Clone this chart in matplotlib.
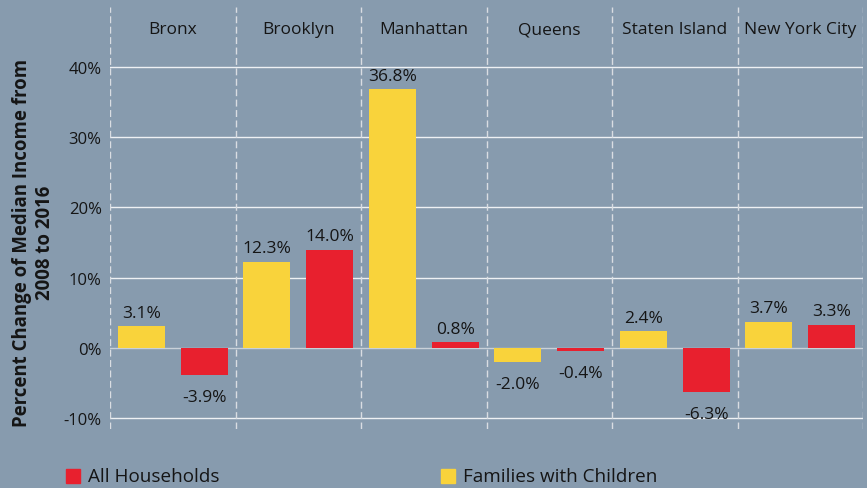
import matplotlib.pyplot as plt
from matplotlib.patches import Rectangle

plt.rcParams["font.family"] = ["Open Sans", "DejaVu Sans"]

boroughs = ["Bronx", "Brooklyn", "Manhattan", "Queens", "Staten Island", "New York City"]
families_with_children = [3.1, 12.3, 36.8, -2.0, 2.4, 3.7]
all_households = [-3.9, 14.0, 0.8, -0.4, -6.3, 3.3]
y_ticks = [-10, 0, 10, 20, 30, 40]

BG = "#879BAE"
YELLOW = "#F9D33B"
RED = "#E8202E"
TEXT = "#151515"

fig = plt.figure(figsize=(8.67, 4.89), dpi=100, facecolor=BG)
ax = fig.add_axes([110 / 867, 1 - 430 / 489, 753 / 867, 422 / 489])
ax.set_facecolor(BG)

n = len(boroughs)
ax.set_xlim(0, n)
ax.set_ylim(-11.53, 48.54)

# horizontal grid
for t in y_ticks:
    ax.axhline(t, color="#c9d1d9" if t == 0 else "#eef1f4", lw=1.0, zorder=1)

# panel separators
for i in range(n + 1):
    ax.axvline(i, color="#d9dde2", lw=1.0, ls=(0, (5, 2.5)), zorder=1)

w = 0.375
for i, name in enumerate(boroughs):
    ax.text(i + 0.5, 45.4, name, ha="center", va="center", fontsize=12.5, color=TEXT)
    for off, val, col in ((0.25, families_with_children[i], YELLOW), (0.75, all_households[i], RED)):
        ax.bar(i + off, val, width=w, color=col, zorder=2)
        if val >= 0:
            ax.annotate(f"{val:.1f}%", (i + off, val), xytext=(0, 4), textcoords="offset points",
                        ha="center", va="bottom", fontsize=12.5, color=TEXT)
        else:
            ax.annotate(f"{val:.1f}%", (i + off, val), xytext=(0, -10), textcoords="offset points",
                        ha="center", va="top", fontsize=12.5, color=TEXT)

ax.set_yticks(y_ticks)
ax.set_yticklabels([f"{t}%" for t in y_ticks], fontsize=12, color=TEXT)
ax.tick_params(axis="y", length=0, pad=6)
ax.set_xticks([])
for s in ax.spines.values():
    s.set_visible(False)

fig.text(34 / 867, 1 - 243 / 489, "Percent Change of Median Income from\n2008 to 2016",
         rotation=90, ha="center", va="center", fontsize=13.4, fontweight="bold",
         color=TEXT, multialignment="center", linespacing=1.2)

# legend
for x0, col, label in ((66, RED, "All Households"), (441, YELLOW, "Families with Children")):
    fig.patches.append(Rectangle((x0 / 867, 1 - 484 / 489), 14 / 867, 14 / 489,
                                 transform=fig.transFigure, color=col))
    fig.text((x0 + 22) / 867, 1 - 477 / 489, label, ha="left", va="center",
             fontsize=13.6, color=TEXT)

fig.savefig("out.png", dpi=100, facecolor=BG)
